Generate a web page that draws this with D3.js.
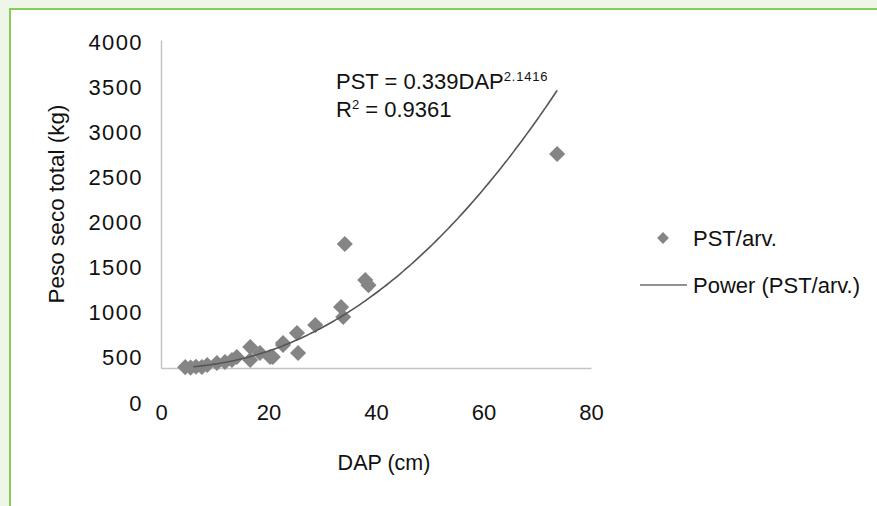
<!DOCTYPE html>
<html>
<head>
<meta charset="utf-8">
<script src="https://cdn.jsdelivr.net/npm/d3@7"></script>
<style>
    body { margin: 0; background: #eef6e8; }
    text { font-family: "Liberation Sans", Arial, sans-serif; fill: #111; }
</style>
</head>
<body>
<div id="chart"></div>
<script>
"use strict";

// Data (DAP in cm, PST in kg)
var dap = [4.5, 5.5, 6.5, 7.6, 8.6, 10.4, 11.9, 13.2, 14.1, 16.6, 16.6, 18.4, 20.3, 20.8, 22.7, 22.7, 25.3, 25.5, 28.7, 33.5, 33.9, 34.2, 38.0, 38.6, 73.7];
var pst = [10, 5, 15, 12, 37, 61, 73, 98, 134, 256, 98, 183, 134, 134, 305, 280, 427, 183, 524, 744, 622, 1512, 1073, 1010, 2610];

// Power trendline parameters (from the chart's equation)
var FIT_A = 0.339;
var FIT_B = 2.1416;

var xTicks = [0, 20, 40, 60, 80];
var yTicks = [0, 500, 1000, 1500, 2000, 2500, 3000, 3500, 4000];

var legendLabels = ["PST/arv.", "Power (PST/arv.)"];

function renderChart(){

    var W = 877, H = 506;
    var plot = { left: 161, right: 591, top: 40, bottom: 368 };

    var svg = d3.select("#chart").append("svg")
        .attr("width", W)
        .attr("height", H);

    // Frame: light green page with a white panel and green border
    svg.append("rect")
        .attr("x", 0).attr("y", 0)
        .attr("width", W).attr("height", H)
        .attr("fill", "#eef6e8");
    svg.append("rect")
        .attr("x", 10).attr("y", 9)
        .attr("width", W + 20).attr("height", H + 20)
        .attr("fill", "#ffffff")
        .attr("stroke", "#86cc58")
        .attr("stroke-width", 2);

    // Scales
    var xScale = d3.scaleLinear().domain([0, 80]).range([plot.left, plot.right]);
    var yScale = d3.scaleLinear().domain([0, 4000]).range([plot.bottom, plot.top]);
    // the y tick labels in the picture sit on their own (looser) spacing
    var yLabelScale = d3.scaleLinear().domain([0, 4000]).range([403, 42]);

    // Axis lines
    var xAxis = d3.axisBottom(xScale).tickValues(xTicks).tickSize(0).tickPadding(36)
        .tickFormat(d3.format("d"));
    var gx = svg.append("g")
        .attr("transform", "translate(0," + plot.bottom + ")")
        .call(xAxis);
    gx.select(".domain").attr("stroke", "#c4c4c4").attr("stroke-width", 1.5);
    gx.selectAll("text").attr("font-size", 22).attr("fill", "#111")
        .attr("font-family", "Liberation Sans, Arial, sans-serif");

    var yLine = d3.axisLeft(yScale).tickValues([]).tickSize(0).tickSizeOuter(0);
    svg.append("g")
        .attr("transform", "translate(" + plot.left + ",0)")
        .call(yLine)
        .select(".domain").attr("stroke", "#c4c4c4").attr("stroke-width", 1.5);

    var yAxis = d3.axisLeft(yLabelScale).tickValues(yTicks).tickSize(0).tickPadding(18)
        .tickFormat(d3.format("d"));
    var gy = svg.append("g")
        .attr("transform", "translate(" + plot.left + ",0)")
        .call(yAxis);
    gy.select(".domain").remove();
    gy.selectAll("text").attr("font-size", 22).attr("fill", "#111")
        .attr("letter-spacing", "1.4px")
        .attr("font-family", "Liberation Sans, Arial, sans-serif");

    // Axis titles
    svg.append("text")
        .attr("transform", "translate(64,204)rotate(-90)")
        .attr("text-anchor", "middle")
        .attr("font-size", 22.5)
        .text("Peso seco total (kg)");

    svg.append("text")
        .attr("x", 384).attr("y", 470)
        .attr("text-anchor", "middle")
        .attr("font-size", 21.5)
        .text("DAP (cm)");

    // Points
    var points = dap.map(function(d, i){ return [d, pst[i]]; });
    var diamond = d3.symbol().type(d3.symbolSquare).size(130);

    svg.append("g").selectAll("path")
        .data(points)
        .enter().append("path")
        .attr("d", diamond)
        .attr("transform", function(d){
            return "translate(" + xScale(d[0]) + "," + yScale(d[1]) + ")rotate(45)";
        })
        .attr("fill", "#858585");

    // Trendline
    var xMin = d3.min(dap) + 1.5, xMax = d3.max(dap);
    var fitX = d3.range(xMin, xMax, 0.5).concat([xMax]);
    var fitLine = d3.line()
        .x(function(d){ return xScale(d); })
        .y(function(d){ return yScale(FIT_A * Math.pow(d, FIT_B)); })
        .curve(d3.curveMonotoneX);

    svg.append("path")
        .datum(fitX)
        .attr("d", fitLine)
        .attr("fill", "none")
        .attr("stroke", "#555555")
        .attr("stroke-width", 1.6);

    // Equation
    var eq = svg.append("text").attr("x", 336).attr("y", 89).attr("font-size", 22);
    eq.append("tspan").text("PST = " + FIT_A + "DAP");
    eq.append("tspan").attr("font-size", 13).attr("letter-spacing", "0.8px")
        .attr("dy", -8).text(FIT_B);

    var r2 = svg.append("text").attr("x", 336).attr("y", 117).attr("font-size", 22);
    r2.append("tspan").text("R");
    r2.append("tspan").attr("font-size", 13).attr("dy", -8).text("2");
    r2.append("tspan").attr("dy", 8).text(" = 0.9361");

    // Legend
    svg.append("path")
        .attr("d", d3.symbol().type(d3.symbolSquare).size(70))
        .attr("transform", "translate(663,238)rotate(45)")
        .attr("fill", "#858585");
    svg.append("text")
        .attr("x", 693).attr("y", 246)
        .attr("font-size", 22)
        .text(legendLabels[0]);

    svg.append("line")
        .attr("x1", 640).attr("x2", 687)
        .attr("y1", 285).attr("y2", 285)
        .attr("stroke", "#6d6d6d")
        .attr("stroke-width", 1.6);
    svg.append("text")
        .attr("x", 693).attr("y", 293)
        .attr("font-size", 22)
        .text(legendLabels[1]);
}

renderChart();
</script>
</body>
</html>
